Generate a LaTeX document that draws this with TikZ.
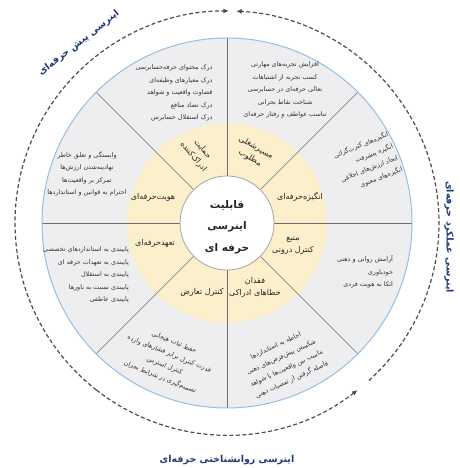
\documentclass[tikz,border=0pt]{standalone}
\usepackage{fontspec}
\usepackage{tikz}
\usetikzlibrary{arrows.meta}
\TeXXeTstate=1
\newfontfamily\farsi[Script=Arabic]{DejaVu Sans}
\newcommand{\fa}[1]{\beginR #1\endR}
\definecolor{ringgray}{RGB}{238,238,240}
\definecolor{ringblue}{RGB}{150,190,225}
\definecolor{coreyellow}{RGB}{252,239,203}
\definecolor{spokegray}{RGB}{110,110,110}
\definecolor{phaseblue}{RGB}{31,58,120}
\pgfdeclarelayer{edgelayer}
\pgfdeclarelayer{nodelayer}
\pgfsetlayers{edgelayer,nodelayer,main}
\tikzstyle{spoke}=[draw=spokegray, line width=0.7pt]
\tikzstyle{facet}=[font=\farsi\fontsize{6.4}{12.5}\selectfont, text=black!80, inner sep=0pt, align=center]
\tikzstyle{trait}=[font=\farsi\fontsize{8}{12}\selectfont, text=black!85, inner sep=0pt, align=center]
\tikzstyle{core}=[font=\farsi\bfseries\fontsize{10.5}{21.5}\selectfont, text=black!85, inner sep=0pt, align=center]
\tikzstyle{phase}=[font=\farsi\bfseries\fontsize{9.5}{11}\selectfont, text=phaseblue, inner sep=0pt]
\tikzstyle{flow}=[draw=black!70, line width=1.2pt, dash pattern=on 4pt off 2.5pt, -{Latex[length=5.5pt,width=5pt]}]

\begin{document}
\begin{tikzpicture}[x=1pt,y=1pt]
            \useasboundingbox (-227,-245) rectangle (232,223);
            \begin{pgfonlayer}{edgelayer}
                \fill [ringgray] (0,0) circle (185);
                \fill [coreyellow] (0,0) circle (100);
                \draw [style=spoke] (0:47) -- (0:185);
                \draw [style=spoke] (45:47) -- (45:185);
                \draw [style=spoke] (90:47) -- (90:185);
                \draw [style=spoke] (135:47) -- (135:185);
                \draw [style=spoke] (180:47) -- (180:185);
                \draw [style=spoke] (225:47) -- (225:185);
                \draw [style=spoke] (270:47) -- (270:185);
                \draw [style=spoke] (315:47) -- (315:185);
                \draw [ringblue, line width=1pt] (0,0) circle (185);
                \filldraw [fill=white, draw=gray!70, line width=0.8pt] (0,0) circle (47);
            \end{pgfonlayer}
            \begin{pgfonlayer}{nodelayer}
                % outer ring
                \node [style=facet, align=right] (f1) at (-53,130) {\fa{درک محتوای حرفه‌حسابرسی}\\\fa{درک معیارهای وظیفه‌ای}\\\fa{قضاوت واقعیت و شواهد}\\\fa{درک تضاد منافع}\\\fa{درک استقلال حسابرس}};
                \node [style=facet] (f2) at (58,133) {\fa{افزایش تجربه‌های مهارتی}\\\fa{کسب تجربه از اشتباهات}\\\fa{تعالی حرفه‌ای در حسابرسی}\\\fa{شناخت نقاط بحرانی}\\\fa{تناسب عواطف و رفتار حرفه‌ای}};
                \node [style=facet, align=right, rotate=22] (f3) at (140,60) {\fa{انگیزه‌های کثرت‌گرائی}\\\fa{انگیزه پیشرفت}\\\fa{ایجاد ارزش‌های اخلاقی}\\\fa{انگیزه‌های معنوی}};
                \node [style=facet, align=right] (f4) at (138,-49) {\fa{آرامش روانی و ذهنی}\\\fa{خودباوری}\\\fa{اتکا به هویت فردی}};
                \node [style=facet, rotate=25] (f5) at (57,-140) {\fa{احاطه به استانداردها}\\\fa{شکستن پیش‌فرض‌های ذهنی}\\\fa{تناسب بین واقعیت‌ها با شواهد}\\\fa{فاصله گرفتن از تعصبات ذهنی}};
                \node [style=facet, rotate=-22] (f6) at (-60,-137) {\fa{حفظ ثبات هیجانی}\\\fa{قدرت کنترل برابر فشارهای وارده}\\\fa{کنترل استرس}\\\fa{تصمیم‌گیری در شرایط بحران}};
                \node [style=facet, align=right] (f7) at (-141,-52) {\fa{پایبندی به استانداردهای تخصصی}\\\fa{پایبندی به تعهدات حرفه ای}\\\fa{پایبندی به استقلال}\\\fa{پایبندی نسبت به باورها}\\\fa{پایبندی عاطفی}};
                \node [style=facet] (f8) at (-140,49) {\fa{وابستگی و تعلق خاطر}\\\fa{نهادینه‌شدن ارزش‌ها}\\\fa{تمرکز بر واقعیت‌ها}\\\fa{احترام به قوانین و استانداردها}};
                % yellow ring
                \node [style=trait, rotate=-50] (t1) at (-29,70) {\fa{حمایت}\\\fa{ادراک‌کننده}};
                \node [style=trait, rotate=-30] (t2) at (26,70) {\fa{مسیرشغلی}\\\fa{مطلوب}};
                \node [style=trait] (t3) at (73,26) {\fa{انگیزه‌حرفه‌ای}};
                \node [style=trait] (t4) at (66,-23) {\fa{منبع}\\\fa{کنترل درونی}};
                \node [style=trait] (t5) at (28,-64) {\fa{فقدان}\\\fa{خطاهای ادراکی}};
                \node [style=trait] (t6) at (-25,-69) {\fa{کنترل تعارض}};
                \node [style=trait] (t7) at (-72,-20) {\fa{تعهدحرفه‌ای}};
                \node [style=trait] (t8) at (-74,26) {\fa{هویت‌حرفه‌ای}};
                % centre
                \node [style=core] (hub) at (0,-4) {\fa{قابلیت}\\\fa{اینرسی}\\\fa{حرفه ای}};
                % phases
                \node [style=phase, rotate=38] (pre) at (-148,180) {\fa{اینرسی پیش حرفه‌ای}};
                \node [style=phase, rotate=-90] (perf) at (222,-14) {\fa{اینرسی عملکرد حرفه‌ای}};
                \node [style=phase] (psy) at (0,-237) {\fa{اینرسی روانشناختی حرفه‌ای}};
            \end{pgfonlayer}
            \draw [style=flow] (232:212) arc [start angle=232, end angle=89.5, radius=212];
            \draw [style=flow] (-48:212) arc [start angle=-48, end angle=87.5, radius=212];
            \draw [style=flow] (232:212) arc [start angle=232, end angle=308, radius=212];
        \end{tikzpicture}
\end{document}
